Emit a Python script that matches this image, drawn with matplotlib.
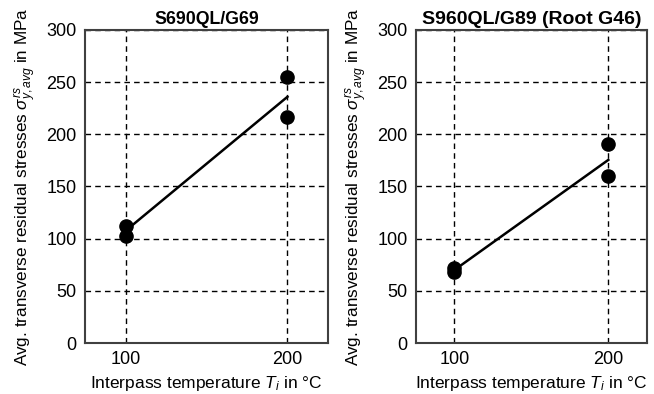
import matplotlib
matplotlib.use("Agg")
import matplotlib.pyplot as plt
import numpy as np

plt.rcParams['font.family'] = ['Liberation Sans', 'DejaVu Sans']
plt.rcParams['mathtext.fontset'] = 'custom'
plt.rcParams['mathtext.rm'] = 'Liberation Sans'
plt.rcParams['mathtext.it'] = 'Liberation Sans:italic'
plt.rcParams['mathtext.bf'] = 'Liberation Sans:bold'

titles = ["S690QL/G69", "S960QL/G89 (Root G46)"]
temps = [100, 100, 200, 200]
stress_left = [112, 103, 255, 217]
stress_right = [72, 68, 191, 160]
fit_x = [100, 200]
fit_left = [107.5, 236]
fit_right = [70, 175.5]

fig = plt.figure(figsize=(6.54, 3.94), dpi=100)
positions = [[0.130, 0.1294, 0.3715, 0.7945], [0.636, 0.1294, 0.353, 0.7945]]
title_sizes = [12.8, 14]
datas = [(stress_left, fit_left), (stress_right, fit_right)]

for pos, title, tsz, (pts, fit) in zip(positions, titles, title_sizes, datas):
    ax = fig.add_axes(pos)
    ax.set_xlim(75, 225)
    ax.set_ylim(0, 300)
    ax.set_xticks([100, 200])
    ax.set_yticks(np.arange(0, 301, 50))
    ax.grid(True, color='black', linestyle=(0, (4, 3)), linewidth=1.0)
    ax.set_axisbelow(True)
    ax.plot(fit_x, fit, color='black', linewidth=1.8, zorder=3)
    ax.plot(temps, pts, 'o', color='black', markersize=9.5, zorder=4)
    ax.tick_params(length=0, labelsize=13, pad=6)
    for s in ax.spines.values():
        s.set_color('#404040')
        s.set_linewidth(1.5)
    ax.set_title(title, fontsize=tsz, fontweight='bold', pad=4)
    ax.set_xlabel(r"Interpass temperature $T_i$ in °C", fontsize=12.5, labelpad=4)
    ax.set_ylabel(r"Avg. transverse residual stresses $\sigma^{rs}_{y,avg}$ in MPa", fontsize=12.3, labelpad=6)

fig.savefig("out.png", dpi=100)
